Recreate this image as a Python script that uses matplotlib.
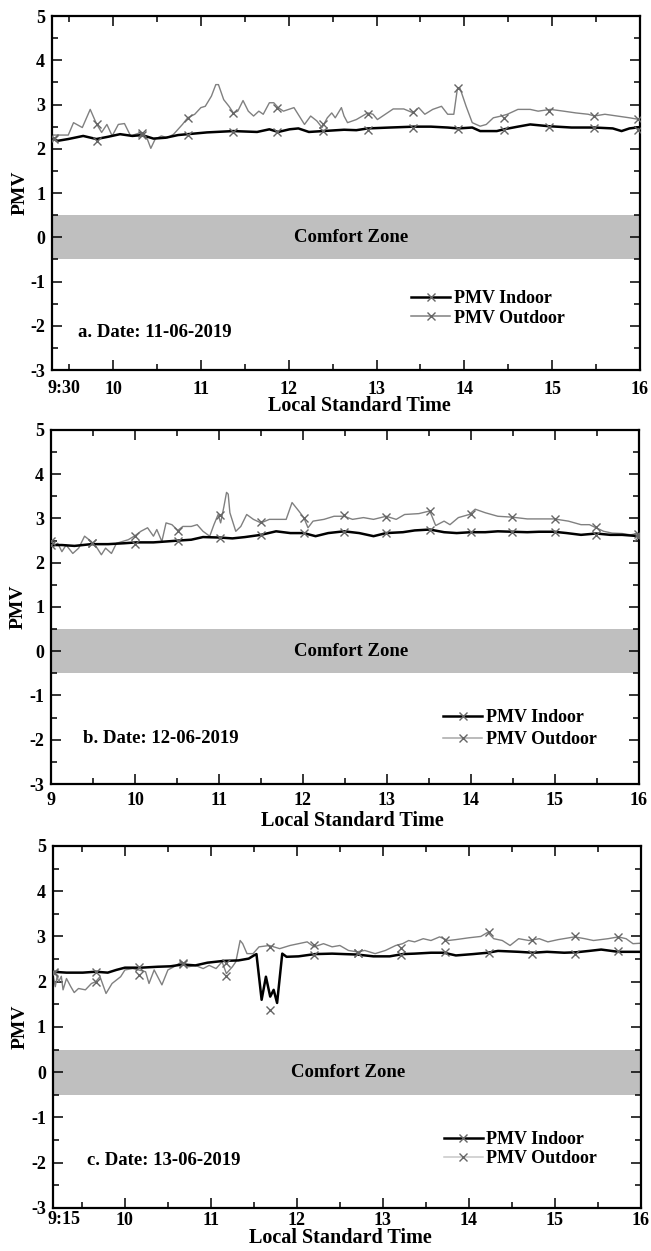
import matplotlib
matplotlib.use('Agg')
import matplotlib.pyplot as plt
from matplotlib.lines import Line2D
from matplotlib.ticker import FixedLocator, MultipleLocator

plt.rcParams['font.family'] = ['Liberation Serif', 'DejaVu Serif']
plt.rcParams['font.weight'] = 'bold'
plt.rcParams['axes.labelweight'] = 'bold'
plt.rcParams['axes.unicode_minus'] = False

# ---------------- data (time in decimal hours, PMV) ----------------
a_outdoor = [(9.305, 2.31), (9.49, 2.31), (9.55, 2.59), (9.65, 2.48), (9.74, 2.89), (9.81, 2.57), (9.87, 2.37),
             (9.93, 2.55), (9.99, 2.29), (10.06, 2.55), (10.13, 2.57), (10.2, 2.29), (10.32, 2.37), (10.39, 2.22),
             (10.43, 2.01), (10.48, 2.22), (10.55, 2.29), (10.62, 2.25), (10.69, 2.33), (10.79, 2.55), (10.85, 2.70),
             (10.93, 2.78), (11.0, 2.93), (11.05, 2.96), (11.12, 3.19), (11.17, 3.45), (11.2, 3.45), (11.26, 3.11),
             (11.32, 2.96), (11.37, 2.81), (11.42, 2.85), (11.48, 3.09), (11.54, 2.85), (11.6, 2.74), (11.66, 2.85),
             (11.71, 2.78), (11.78, 3.04), (11.83, 3.04), (11.88, 2.93), (11.94, 2.85), (12.0, 2.89), (12.06, 2.93),
             (12.12, 2.74), (12.18, 2.55), (12.25, 2.74), (12.32, 2.63), (12.38, 2.48), (12.44, 2.70), (12.49, 2.81),
             (12.53, 2.70), (12.6, 2.93), (12.63, 2.74), (12.67, 2.59), (12.77, 2.66), (12.9, 2.81), (12.96, 2.78),
             (13.01, 2.66), (13.1, 2.78), (13.19, 2.90), (13.31, 2.90), (13.42, 2.81), (13.48, 2.93), (13.55, 2.78),
             (13.64, 2.89), (13.74, 2.96), (13.81, 2.78), (13.88, 2.78), (13.92, 3.35), (13.95, 3.37), (14.02, 2.96),
             (14.09, 2.59), (14.18, 2.51), (14.25, 2.55), (14.33, 2.70), (14.42, 2.74), (14.49, 2.78), (14.61, 2.89),
             (14.75, 2.89), (14.84, 2.85), (14.98, 2.89), (15.13, 2.85), (15.27, 2.81), (15.41, 2.78), (15.48, 2.74),
             (15.6, 2.78), (15.74, 2.74), (15.88, 2.70), (16.0, 2.66)]
a_indoor = [(9.305, 2.23), (9.37, 2.18), (9.49, 2.22), (9.66, 2.29), (9.81, 2.22), (9.94, 2.27), (10.08, 2.33),
            (10.22, 2.29), (10.33, 2.31), (10.46, 2.23), (10.6, 2.25), (10.74, 2.31), (10.85, 2.33), (11.07, 2.37),
            (11.37, 2.40), (11.64, 2.38), (11.78, 2.44), (11.88, 2.38), (12.01, 2.44), (12.11, 2.46), (12.23, 2.38),
            (12.39, 2.40), (12.63, 2.43), (12.77, 2.42), (12.9, 2.46), (13.15, 2.48), (13.43, 2.50), (13.62, 2.50),
            (13.81, 2.48), (13.93, 2.46), (14.09, 2.48), (14.18, 2.40), (14.37, 2.40), (14.45, 2.44), (14.61, 2.50),
            (14.75, 2.55), (14.96, 2.51), (15.22, 2.48), (15.48, 2.48), (15.69, 2.46), (15.79, 2.40), (15.88, 2.46),
            (16.0, 2.49)]
a_mark_t = [9.33, 9.82, 10.33, 10.85, 11.37, 11.87, 12.39, 12.9, 13.42, 13.93, 14.45, 14.96, 15.48, 15.98]
a_mark_in = [2.22, 2.18, 2.30, 2.30, 2.38, 2.38, 2.40, 2.43, 2.46, 2.44, 2.43, 2.50, 2.48, 2.43]
a_mark_out = [2.25, 2.55, 2.35, 2.70, 2.81, 2.93, 2.55, 2.79, 2.84, 3.38, 2.70, 2.86, 2.75, 2.68]

b_outdoor = [(9.0, 2.56), (9.03, 2.37), (9.08, 2.44), (9.13, 2.25), (9.18, 2.40), (9.26, 2.21), (9.33, 2.33),
             (9.4, 2.60), (9.48, 2.48), (9.55, 2.33), (9.6, 2.18), (9.65, 2.33), (9.72, 2.21), (9.78, 2.44),
             (9.85, 2.48), (9.92, 2.52), (10.0, 2.61), (10.07, 2.71), (10.15, 2.79), (10.22, 2.60), (10.26, 2.75),
             (10.32, 2.48), (10.37, 2.90), (10.44, 2.86), (10.51, 2.73), (10.57, 2.82), (10.67, 2.82), (10.74, 2.86),
             (10.81, 2.71), (10.89, 2.60), (10.94, 2.86), (10.99, 3.09), (11.02, 2.90), (11.06, 3.28), (11.09, 3.59),
             (11.11, 3.55), (11.13, 3.13), (11.2, 2.71), (11.26, 2.82), (11.33, 3.09), (11.41, 2.98), (11.5, 2.90),
             (11.6, 2.98), (11.8, 2.98), (11.87, 3.36), (11.95, 3.17), (12.01, 3.02), (12.06, 2.79), (12.12, 2.94),
             (12.25, 2.98), (12.37, 3.05), (12.49, 3.05), (12.59, 2.98), (12.72, 3.02), (12.84, 2.98), (12.99, 3.05),
             (13.11, 2.98), (13.21, 3.09), (13.38, 3.11), (13.51, 3.17), (13.58, 2.84), (13.68, 2.94), (13.75, 2.86),
             (13.85, 3.02), (13.98, 3.09), (14.05, 3.21), (14.17, 3.13), (14.32, 3.05), (14.49, 3.03), (14.67, 2.99),
             (14.81, 2.99), (14.99, 2.99), (15.16, 2.94), (15.31, 2.86), (15.41, 2.86), (15.49, 2.79), (15.58, 2.71),
             (15.68, 2.67), (15.8, 2.66), (15.9, 2.63), (16.0, 2.67)]
b_indoor = [(9.0, 2.40), (9.13, 2.40), (9.28, 2.38), (9.48, 2.42), (9.68, 2.42), (9.87, 2.44), (10.02, 2.46),
            (10.22, 2.46), (10.37, 2.48), (10.51, 2.50), (10.67, 2.52), (10.81, 2.58), (11.0, 2.57), (11.16, 2.55),
            (11.31, 2.58), (11.5, 2.63), (11.68, 2.71), (11.85, 2.67), (12.01, 2.67), (12.15, 2.60), (12.3, 2.67),
            (12.49, 2.71), (12.67, 2.67), (12.84, 2.60), (12.99, 2.67), (13.19, 2.69), (13.33, 2.73), (13.51, 2.75),
            (13.68, 2.69), (13.83, 2.67), (14.0, 2.69), (14.17, 2.69), (14.32, 2.71), (14.49, 2.70), (14.67, 2.69),
            (14.81, 2.70), (14.99, 2.70), (15.14, 2.67), (15.31, 2.63), (15.49, 2.66), (15.66, 2.63), (15.8, 2.63),
            (16.0, 2.60)]
b_mark_t = [9.0, 9.49, 10.0, 10.51, 11.01, 11.5, 12.01, 12.49, 12.99, 13.51, 14.0, 14.49, 15.0, 15.49, 15.99]
b_mark_in = [2.40, 2.45, 2.42, 2.50, 2.55, 2.63, 2.68, 2.70, 2.68, 2.74, 2.69, 2.70, 2.70, 2.63, 2.58]
b_mark_out = [2.50, 2.45, 2.60, 2.72, 3.07, 2.92, 3.00, 3.07, 3.04, 3.16, 3.10, 3.03, 2.99, 2.80, 2.65]

c_outdoor = [(9.16, 2.18), (9.19, 1.89), (9.21, 2.11), (9.23, 2.00), (9.26, 2.12), (9.28, 1.82), (9.32, 2.07),
             (9.37, 1.89), (9.41, 1.76), (9.46, 1.85), (9.54, 1.82), (9.61, 1.96), (9.66, 2.00), (9.71, 2.11),
             (9.78, 1.74), (9.85, 1.96), (9.95, 2.11), (10.0, 2.26), (10.09, 2.29), (10.16, 2.26), (10.24, 2.22),
             (10.28, 1.96), (10.34, 2.26), (10.43, 1.93), (10.5, 2.26), (10.57, 2.33), (10.66, 2.44), (10.74, 2.33),
             (10.82, 2.36), (10.91, 2.29), (10.98, 2.36), (11.06, 2.29), (11.13, 2.44), (11.18, 2.18), (11.25, 2.33),
             (11.29, 2.44), (11.34, 2.91), (11.37, 2.84), (11.42, 2.62), (11.49, 2.62), (11.56, 2.77), (11.68, 2.80),
             (11.8, 2.73), (11.92, 2.80), (12.02, 2.84), (12.12, 2.88), (12.2, 2.77), (12.31, 2.84), (12.41, 2.77),
             (12.5, 2.80), (12.6, 2.69), (12.7, 2.66), (12.79, 2.69), (12.91, 2.62), (13.03, 2.69), (13.15, 2.80),
             (13.23, 2.84), (13.3, 2.91), (13.37, 2.88), (13.47, 2.95), (13.56, 2.91), (13.66, 2.99), (13.76, 2.91),
             (13.85, 2.93), (14.0, 2.97), (14.14, 3.00), (14.22, 3.09), (14.29, 2.95), (14.39, 2.91), (14.48, 2.80),
             (14.58, 2.95), (14.7, 2.91), (14.82, 2.95), (14.92, 2.88), (15.04, 2.93), (15.23, 2.99), (15.35, 2.95),
             (15.45, 2.91), (15.62, 2.95), (15.74, 2.99), (15.83, 2.95), (15.91, 2.84), (16.0, 2.85)]
c_indoor = [(9.16, 2.22), (9.32, 2.20), (9.51, 2.20), (9.66, 2.22), (9.8, 2.20), (9.9, 2.26), (10.0, 2.31),
            (10.19, 2.31), (10.38, 2.33), (10.53, 2.34), (10.67, 2.38), (10.82, 2.36), (10.96, 2.42), (11.15, 2.46),
            (11.32, 2.47), (11.44, 2.51), (11.5, 2.58), (11.53, 2.61), (11.59, 1.60), (11.64, 2.11), (11.69, 1.67),
            (11.73, 1.82), (11.77, 1.53), (11.83, 2.62), (11.88, 2.55), (12.02, 2.56), (12.21, 2.61), (12.41, 2.62),
            (12.55, 2.61), (12.7, 2.60), (12.89, 2.56), (13.08, 2.56), (13.23, 2.61), (13.37, 2.62), (13.56, 2.64),
            (13.71, 2.64), (13.85, 2.58), (14.05, 2.61), (14.22, 2.64), (14.34, 2.68), (14.58, 2.66), (14.75, 2.64),
            (14.91, 2.66), (15.11, 2.64), (15.25, 2.65), (15.4, 2.68), (15.54, 2.71), (15.74, 2.66), (16.0, 2.66)]
c_mark_t = [9.18, 9.66, 10.16, 10.67, 11.18, 11.69, 12.2, 12.71, 13.21, 13.72, 14.23, 14.73, 15.24, 15.74]
c_mark_in = [2.22, 2.22, 2.32, 2.38, 2.42, 1.38, 2.59, 2.63, 2.59, 2.66, 2.63, 2.62, 2.62, 2.67]
c_mark_out = [2.20, 2.00, 2.15, 2.42, 2.13, 2.77, 2.81, 2.63, 2.75, 2.92, 3.10, 2.93, 3.01, 2.98]

hour_ticks_a = [10, 11, 12, 13, 14, 15, 16]
hour_ticks_b = [9, 10, 11, 12, 13, 14, 15, 16]
hour_ticks_c = [10, 11, 12, 13, 14, 15, 16]
series_labels = ['PMV Indoor', 'PMV Outdoor']
date_labels = ['a. Date: 11-06-2019', 'b. Date: 12-06-2019', 'c. Date: 13-06-2019']
start_labels = ['9:30', None, '9:15']

# ---------------- layout / styles ----------------
panels = [
    dict(rect=[0.0799, 0.7042, 0.9032, 0.2830], xlim=(9.305, 16), out=a_outdoor, ind=a_indoor,
         mt=a_mark_t, mi=a_mark_in, mo=a_mark_out, ticks=hour_ticks_a, start=(9.44, start_labels[0]),
         xpad=8.0, xlab=(0.522, -0.102), comfort_x=0.508, date=(0.044, -2.16, date_labels[0]),
         leg=(0.611, 0.174, 0.15), legout='#808080'),
    dict(rect=[0.0783, 0.3733, 0.9032, 0.2830], xlim=(9.0, 16), out=b_outdoor, ind=b_indoor,
         mt=b_mark_t, mi=b_mark_in, mo=b_mark_out, ticks=hour_ticks_b, start=None,
         xpad=5.5, xlab=(0.513, -0.1045), comfort_x=0.51, date=(0.054, -1.98, date_labels[1]),
         leg=(0.667, 0.157, 0.28), legout='#a8a8a8'),
    dict(rect=[0.0810, 0.0344, 0.9032, 0.2894], xlim=(9.16, 16), out=c_outdoor, ind=c_indoor,
         mt=c_mark_t, mi=c_mark_in, mo=c_mark_out, ticks=hour_ticks_c, start=(9.295, start_labels[2]),
         xpad=3.0, xlab=(0.489, -0.083), comfort_x=0.503, date=(0.058, -1.96, date_labels[2]),
         leg=(0.665, 0.163, 0.12), legout='#c8c8c8'),
]

OUT_COLOR = '#808080'
MARK_COLOR = '#666666'
TICK_SIZE = 13

fig = plt.figure(figsize=(6.51, 12.51), dpi=100)

for p in panels:
    ax = fig.add_axes(p['rect'])
    ax.axhspan(-0.5, 0.5, color='#bfbfbf', lw=0, zorder=0)
    ot, ov = zip(*p['out'])
    it, iv = zip(*p['ind'])
    ax.plot(ot, ov, color=OUT_COLOR, lw=1.0, zorder=2)
    ax.plot(it, iv, color='black', lw=1.8, zorder=3)
    ax.plot(p['mt'], p['mo'], ls='none', marker='x', ms=6, mew=1.0, color=MARK_COLOR, zorder=4)
    ax.plot(p['mt'], p['mi'], ls='none', marker='x', ms=6, mew=1.0, color=MARK_COLOR, zorder=4)

    ax.set_xlim(*p['xlim'])
    ax.set_ylim(-3, 5)
    ax.xaxis.set_major_locator(FixedLocator(p['ticks']))
    ax.set_xticklabels([str(t) for t in p['ticks']])
    ax.xaxis.set_minor_locator(MultipleLocator(0.5))
    ax.yaxis.set_major_locator(MultipleLocator(1))
    ax.yaxis.set_minor_locator(MultipleLocator(0.5))
    ax.tick_params(which='both', direction='in', top=True, right=True, width=1.1, labelsize=TICK_SIZE)
    ax.tick_params(which='major', length=7)
    ax.tick_params(which='minor', length=4)
    ax.tick_params(axis='x', which='major', pad=p['xpad'])
    ax.tick_params(axis='y', which='major', pad=5)
    for lab in ax.get_xticklabels() + ax.get_yticklabels():
        lab.set_fontweight('bold')
    for s in ax.spines.values():
        s.set_linewidth(1.6)

    if p['start'] is not None:
        ax.annotate(p['start'][1], xy=(p['start'][0], 0), xycoords=ax.get_xaxis_transform(),
                    xytext=(0, -p['xpad'] + 1), textcoords='offset points',
                    ha='center', va='top', fontsize=TICK_SIZE, fontweight='bold')

    ax.set_xlabel('Local Standard Time', fontsize=14.5, fontweight='bold', va='center')
    ax.xaxis.set_label_coords(*p['xlab'])
    ax.set_ylabel('PMV', fontsize=14, fontweight='bold', va='center')
    ax.yaxis.set_label_coords(-0.055, 0.5)

    ax.text(p['comfort_x'], 0, 'Comfort Zone', transform=ax.get_yaxis_transform(),
            ha='center', va='center', fontsize=13.5, fontweight='bold')
    dx, dy, dtxt = p['date']
    ax.text(dx, dy, dtxt, transform=ax.get_yaxis_transform(), ha='left', va='center',
            fontsize=13.5, fontweight='bold')

    lx, ly, ls = p['leg']
    h_in = Line2D([], [], color='black', lw=1.8, marker='x', ms=6, mew=1.0, mec=MARK_COLOR)
    h_out = Line2D([], [], color=p['legout'], lw=1.1, marker='x', ms=6, mew=1.0, mec=MARK_COLOR)
    ax.legend([h_in, h_out], series_labels, loc='center left', bbox_to_anchor=(lx, ly),
              frameon=False, handlelength=2.16, handletextpad=0.2, borderpad=0, borderaxespad=0,
              labelspacing=ls, numpoints=1, prop=dict(weight='bold', size=13))

fig.savefig('out.png', dpi=100)
